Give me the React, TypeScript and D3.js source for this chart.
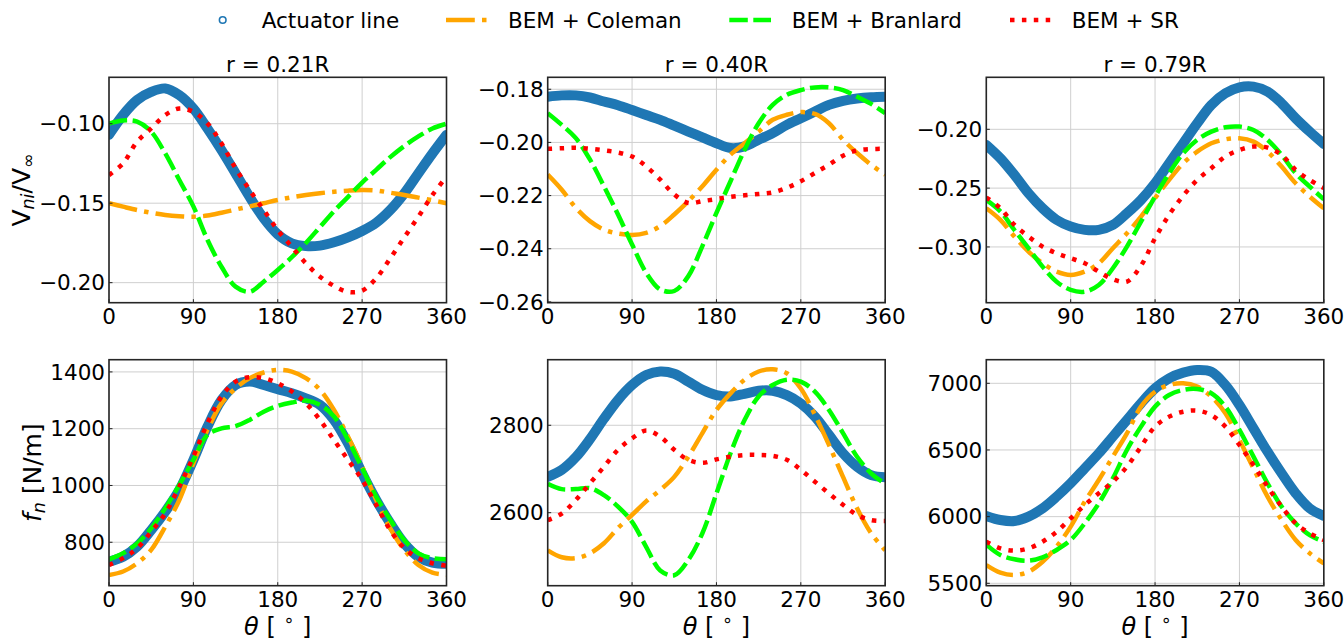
import React from 'react';
import * as d3 from 'd3';

// Azimuth angle grid [deg]
const THETA = [0, 15, 30, 45, 60, 75, 90, 105, 120, 135, 150, 165, 180, 195, 210, 225, 240, 255, 270, 285, 300, 315, 330, 345, 360];

// Normal induced velocity V_ni / V_inf, r = 0.21R
const velAL021 = [-0.107, -0.0945, -0.0851, -0.08, -0.0778, -0.082, -0.0904, -0.103, -0.1166, -0.1312, -0.146, -0.1595, -0.1696, -0.1753, -0.177, -0.1767, -0.1746, -0.1715, -0.1675, -0.1623, -0.1543, -0.1438, -0.1312, -0.1187, -0.107];
const velCol021 = [-0.15, -0.1522, -0.1543, -0.156, -0.1574, -0.1582, -0.1585, -0.1578, -0.156, -0.154, -0.152, -0.15, -0.148, -0.1463, -0.1449, -0.1437, -0.1428, -0.1421, -0.1417, -0.142, -0.1434, -0.1448, -0.1465, -0.1482, -0.15];
const velBra021 = [-0.1, -0.098, -0.0987, -0.105, -0.1187, -0.1354, -0.152, -0.173, -0.19, -0.2025, -0.2057, -0.1994, -0.192, -0.184, -0.175, -0.165, -0.155, -0.146, -0.137, -0.129, -0.121, -0.114, -0.108, -0.103, -0.1];
const velSR021 = [-0.1323, -0.125, -0.1113, -0.103, -0.0945, -0.0904, -0.0925, -0.0998, -0.1124, -0.128, -0.1417, -0.1543, -0.1669, -0.1774, -0.1878, -0.1962, -0.202, -0.2058, -0.205, -0.1973, -0.1847, -0.1715, -0.1585, -0.1449, -0.1333];

// r = 0.40R
const velAL040 = [-0.1828, -0.1823, -0.1823, -0.1831, -0.1846, -0.186, -0.1878, -0.1897, -0.1915, -0.1937, -0.1959, -0.1981, -0.2003, -0.2021, -0.2015, -0.199, -0.1965, -0.1934, -0.1909, -0.1884, -0.1859, -0.1844, -0.1835, -0.183, -0.1828];
const velCol040 = [-0.2121, -0.2178, -0.2246, -0.2296, -0.2328, -0.2343, -0.2348, -0.234, -0.2315, -0.2271, -0.2221, -0.2165, -0.2103, -0.2046, -0.2003, -0.1959, -0.1915, -0.1896, -0.1886, -0.1893, -0.1928, -0.199, -0.204, -0.2084, -0.2121];
const velBra040 = [-0.189, -0.1934, -0.1984, -0.2064, -0.2165, -0.2271, -0.2384, -0.249, -0.2553, -0.2559, -0.2503, -0.239, -0.2265, -0.2146, -0.2028, -0.1928, -0.1859, -0.1821, -0.1803, -0.1793, -0.1793, -0.1803, -0.1828, -0.1855, -0.189];
const velSR040 = [-0.2024, -0.2022, -0.202, -0.2024, -0.203, -0.2038, -0.2053, -0.209, -0.214, -0.2196, -0.2228, -0.2221, -0.2213, -0.2205, -0.2199, -0.2194, -0.2188, -0.2171, -0.2146, -0.2115, -0.2084, -0.205, -0.203, -0.2025, -0.2024];

// r = 0.79R
const velAL079 = [-0.2133, -0.2246, -0.2388, -0.2544, -0.2671, -0.277, -0.2827, -0.2855, -0.2855, -0.2813, -0.2714, -0.2601, -0.2459, -0.2289, -0.2119, -0.1949, -0.1793, -0.1694, -0.1643, -0.1637, -0.168, -0.1779, -0.1907, -0.202, -0.2125];
const velCol079 = [-0.2671, -0.277, -0.2912, -0.304, -0.3139, -0.321, -0.3238, -0.321, -0.3139, -0.3011, -0.2884, -0.2742, -0.2585, -0.2429, -0.2289, -0.219, -0.2119, -0.2085, -0.2076, -0.2105, -0.219, -0.2317, -0.2459, -0.2572, -0.2671];
const velBra079 = [-0.26, -0.2698, -0.2856, -0.3011, -0.3167, -0.3295, -0.3365, -0.338, -0.3323, -0.3181, -0.2997, -0.2785, -0.2572, -0.2374, -0.2204, -0.209, -0.202, -0.1983, -0.1977, -0.2006, -0.209, -0.2218, -0.2374, -0.2487, -0.2595];
const velSR079 = [-0.258, -0.2671, -0.2813, -0.2912, -0.2997, -0.3054, -0.3096, -0.3139, -0.321, -0.3275, -0.3294, -0.3159, -0.2926, -0.2728, -0.2564, -0.2431, -0.2331, -0.2232, -0.2176, -0.2147, -0.2156, -0.2218, -0.2346, -0.2431, -0.25];

// Normal force f_n [N/m], r = 0.21R
const fnAL021 = [732, 749, 785, 843, 908, 984, 1090, 1207, 1301, 1354, 1366, 1354, 1339, 1325, 1307, 1284, 1231, 1148, 1043, 949, 867, 796, 749, 728, 724];
const fnCol021 = [685, 697, 726, 773, 855, 949, 1078, 1196, 1289, 1342, 1378, 1398, 1407, 1401, 1378, 1337, 1266, 1172, 1067, 949, 849, 773, 720, 693, 685];
const fnBra021 = [740, 761, 796, 849, 920, 1002, 1090, 1178, 1201, 1209, 1231, 1260, 1280, 1292, 1299, 1284, 1243, 1160, 1061, 961, 879, 808, 761, 744, 740];
const fnSR021 = [720, 744, 779, 837, 902, 996, 1102, 1219, 1313, 1366, 1381, 1378, 1360, 1331, 1290, 1231, 1160, 1090, 1020, 932, 843, 779, 744, 726, 717];

// r = 0.40R
const fnAL040 = [2682, 2698, 2727, 2768, 2815, 2858, 2892, 2915, 2923, 2918, 2900, 2881, 2869, 2866, 2872, 2879, 2879, 2869, 2850, 2820, 2778, 2736, 2705, 2686, 2681];
const fnCol040 = [2514, 2498, 2496, 2507, 2530, 2565, 2595, 2626, 2652, 2682, 2728, 2782, 2835, 2873, 2904, 2923, 2928, 2919, 2884, 2824, 2755, 2682, 2610, 2553, 2514];
const fnBra040 = [2666, 2654, 2654, 2656, 2640, 2614, 2579, 2522, 2468, 2457, 2492, 2553, 2644, 2736, 2812, 2866, 2892, 2904, 2900, 2877, 2835, 2782, 2728, 2690, 2666];
const fnSR040 = [2583, 2598, 2629, 2667, 2705, 2744, 2770, 2788, 2774, 2744, 2721, 2714, 2722, 2728, 2732, 2732, 2730, 2721, 2698, 2671, 2644, 2618, 2595, 2583, 2581];

// r = 0.79R
const fnAL079 = [6005, 5975, 5967, 6000, 6062, 6150, 6250, 6362, 6475, 6600, 6725, 6850, 6962, 7037, 7080, 7100, 7087, 6987, 6837, 6662, 6487, 6325, 6175, 6062, 6005];
const fnCol079 = [5637, 5580, 5562, 5587, 5662, 5775, 5925, 6112, 6275, 6450, 6625, 6825, 6937, 6987, 7000, 6975, 6900, 6775, 6575, 6362, 6150, 5975, 5825, 5725, 5650];
const fnBra079 = [5790, 5712, 5680, 5670, 5695, 5750, 5825, 5950, 6100, 6287, 6500, 6675, 6825, 6912, 6950, 6957, 6925, 6825, 6650, 6450, 6250, 6075, 5950, 5862, 5812];
const fnSR079 = [5812, 5762, 5745, 5762, 5812, 5887, 5987, 6087, 6175, 6262, 6375, 6525, 6675, 6750, 6787, 6795, 6762, 6675, 6537, 6387, 6225, 6075, 5950, 5875, 5825];

const X_TICKS = [0, 90, 180, 270, 360];
const TITLES = ['r = 0.21R', 'r = 0.40R', 'r = 0.79R'];
const LEGEND_LABELS = ['Actuator line', 'BEM + Coleman', 'BEM + Branlard', 'BEM + SR'];

const FONT = '"DejaVu Sans", sans-serif';
const FS = 21.5;
const FS_LABEL = 25;
const FS_XLABEL = 24;
const FS_SUB = 17.5;

const COL_X = [109, 547.7, 986.3];
const PLOT_W = 337.5;
const ROW_Y = [77.3, 359.7];
const ROW_H = [225.4, 226];

type Style = { color: string; width: number; dash?: string; cap: 'round' | 'butt' };
const STYLES: Style[] = [
  { color: '#1f77b4', width: 10, cap: 'round' },
  { color: '#ffa500', width: 4.5, dash: '28.8 7.2 4.5 7.2', cap: 'butt' },
  { color: '#00ff00', width: 4.5, dash: '18.5 5.5', cap: 'butt' },
  { color: '#ff0000', width: 4.5, dash: '4.5 7.4', cap: 'butt' },
];

type PanelDef = {
  row: number;
  col: number;
  domain: [number, number];
  yTicks: number[];
  fmt: (v: number) => string;
  series: number[][];
};

const fmt2 = d3.format('.2f');
const fmt0 = d3.format('d');

const PANELS: PanelDef[] = [
  { row: 0, col: 0, domain: [-0.2126, -0.0708], yTicks: [-0.2, -0.15, -0.1], fmt: fmt2, series: [velAL021, velCol021, velBra021, velSR021] },
  { row: 0, col: 1, domain: [-0.2603, -0.1755], yTicks: [-0.26, -0.24, -0.22, -0.2, -0.18], fmt: fmt2, series: [velAL040, velCol040, velBra040, velSR040] },
  { row: 0, col: 2, domain: [-0.3474, -0.1558], yTicks: [-0.3, -0.25, -0.2], fmt: fmt2, series: [velAL079, velCol079, velBra079, velSR079] },
  { row: 1, col: 0, domain: [647, 1443], yTicks: [800, 1000, 1200, 1400], fmt: fmt0, series: [fnAL021, fnCol021, fnBra021, fnSR021] },
  { row: 1, col: 1, domain: [2433, 2950], yTicks: [2600, 2800], fmt: fmt0, series: [fnAL040, fnCol040, fnBra040, fnSR040] },
  { row: 1, col: 2, domain: [5482, 7177], yTicks: [5500, 6000, 6500, 7000], fmt: fmt0, series: [fnAL079, fnCol079, fnBra079, fnSR079] },
];

function Panel({ p, idx }: { p: PanelDef; idx: number }) {
  const x0 = COL_X[p.col];
  const y0 = ROW_Y[p.row];
  const h = ROW_H[p.row];
  const x = d3.scaleLinear().domain([0, 360]).range([x0, x0 + PLOT_W]);
  const y = d3.scaleLinear().domain(p.domain).range([y0 + h, y0]);
  const line = d3
    .line<number>()
    .x((_, i) => x(THETA[i]))
    .y((d) => y(d))
    .curve(d3.curveCatmullRom.alpha(0.5));
  const clipId = `clip-${idx}`;
  const bottom = y0 + h;
  return (
    <g>
      <defs>
        <clipPath id={clipId}>
          <rect x={x0} y={y0} width={PLOT_W} height={h} />
        </clipPath>
      </defs>
      {/* grid */}
      {X_TICKS.map((t) => (
        <line key={`gx${t}`} x1={x(t)} x2={x(t)} y1={y0} y2={bottom} stroke="#cfcfcf" strokeWidth={1} />
      ))}
      {p.yTicks.map((t) => (
        <line key={`gy${t}`} x1={x0} x2={x0 + PLOT_W} y1={y(t)} y2={y(t)} stroke="#cfcfcf" strokeWidth={1} />
      ))}
      {/* series */}
      <g clipPath={`url(#${clipId})`}>
        {p.series.map((s, i) => (
          <path
            key={i}
            d={line(s) || ''}
            fill="none"
            stroke={STYLES[i].color}
            strokeWidth={STYLES[i].width}
            strokeDasharray={STYLES[i].dash}
            strokeLinecap={STYLES[i].cap}
            strokeLinejoin="round"
          />
        ))}
      </g>
      {/* inward ticks */}
      {X_TICKS.map((t) => (
        <line key={`tx${t}`} x1={x(t)} x2={x(t)} y1={bottom} y2={bottom - 3.5} stroke="#222" strokeWidth={1} />
      ))}
      {p.yTicks.map((t) => (
        <line key={`ty${t}`} x1={x0} x2={x0 + 3.5} y1={y(t)} y2={y(t)} stroke="#222" strokeWidth={1} />
      ))}
      {/* frame */}
      <rect x={x0} y={y0} width={PLOT_W} height={h} fill="none" stroke="#262626" strokeWidth={1.6} />
      {/* tick labels */}
      {X_TICKS.map((t) => (
        <text key={`lx${t}`} x={x(t)} y={bottom + 20.8} textAnchor="middle" fontSize={FS} fontFamily={FONT} fill="#000">
          {fmt0(t)}
        </text>
      ))}
      {p.yTicks.map((t) => (
        <text key={`ly${t}`} x={x0 - 4} y={y(t) + 7.6} textAnchor="end" fontSize={FS} fontFamily={FONT} fill="#000">
          {p.fmt(t)}
        </text>
      ))}
      {p.row === 0 && (
        <text x={x0 + PLOT_W / 2} y={71.5} textAnchor="middle" fontSize={FS} fontFamily={FONT} fill="#000">
          {TITLES[p.col]}
        </text>
      )}
      {p.row === 1 && (
        <text x={x0 + PLOT_W / 2} y={634.5} textAnchor="middle" fontSize={FS_XLABEL} fontFamily={FONT} fill="#000">
          <tspan fontStyle="italic">θ</tspan>
          <tspan> [ </tspan>
          <tspan fontSize={FS_SUB} dy={-9}>∘</tspan>
          <tspan dy={9}> ]</tspan>
        </text>
      )}
    </g>
  );
}

function Legend() {
  const cy = 20;
  const items = [
    { x1: 446, x2: 487, tx: 508 },
    { x1: 729.3, x2: 771, tx: 791.7 },
    { x1: 1010, x2: 1051, tx: 1071.7 },
  ];
  return (
    <g>
      <circle cx={222.7} cy={cy} r={3.3} fill="none" stroke={STYLES[0].color} strokeWidth={1.6} />
      <text x={261.7} y={28} fontSize={FS} fontFamily={FONT} fill="#000">
        {LEGEND_LABELS[0]}
      </text>
      {items.map((it, i) => (
        <g key={i}>
          <line
            x1={it.x1}
            x2={it.x2}
            y1={cy}
            y2={cy}
            stroke={STYLES[i + 1].color}
            strokeWidth={STYLES[i + 1].width}
            strokeDasharray={STYLES[i + 1].dash}
            strokeLinecap="butt"
          />
          <text x={it.tx} y={28} fontSize={FS} fontFamily={FONT} fill="#000">
            {LEGEND_LABELS[i + 1]}
          </text>
        </g>
      ))}
    </g>
  );
}

export default function App() {
  const midTop = ROW_Y[0] + ROW_H[0] / 2;
  const midBot = ROW_Y[1] + ROW_H[1] / 2;
  return (
    <svg
      width={1344}
      height={639}
      viewBox="0 0 1344 639"
      style={{ position: 'absolute', left: 0, top: 0, background: '#fff' }}
    >
      <rect x={0} y={0} width={1344} height={639} fill="#fff" />
      <Legend />
      {PANELS.map((p, i) => (
        <Panel key={i} p={p} idx={i} />
      ))}
      <text transform={`translate(29.5,${midTop}) rotate(-90)`} textAnchor="middle" fontSize={FS_LABEL} fontFamily={FONT} fill="#000">
        <tspan>V</tspan>
        <tspan fontStyle="italic" fontSize={FS_SUB} dy={4}>ni</tspan>
        <tspan dy={-4}>/</tspan>
        <tspan>V</tspan>
        <tspan fontSize={FS_SUB} dy={4}>∞</tspan>
      </text>
      <text transform={`translate(41,${midBot}) rotate(-90)`} textAnchor="middle" fontSize={FS_LABEL} fontFamily={FONT} fill="#000">
        <tspan fontStyle="italic">f</tspan>
        <tspan fontStyle="italic" fontSize={FS_SUB} dy={4}>n</tspan>
        <tspan dy={-4}> [N/m]</tspan>
      </text>
    </svg>
  );
}
